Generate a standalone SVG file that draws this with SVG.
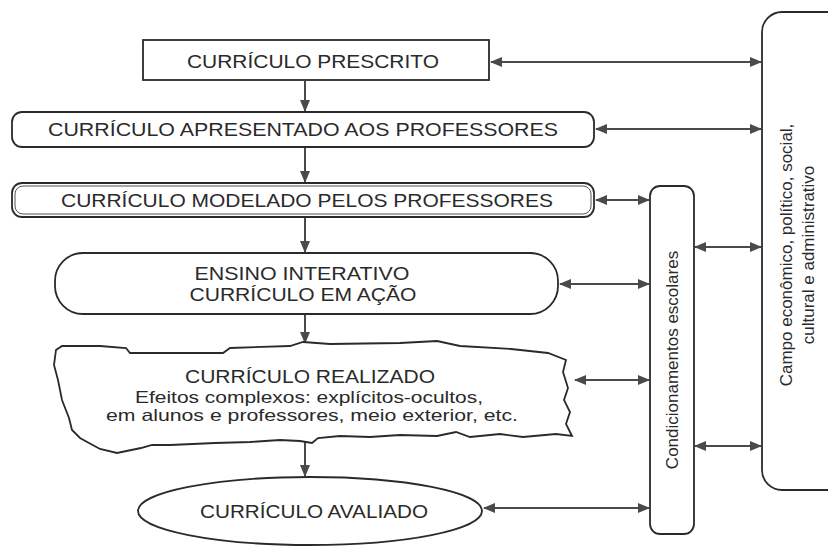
<svg xmlns="http://www.w3.org/2000/svg" width="828" height="546" viewBox="0 0 828 546">
<style>
.box{fill:#fff;stroke:#2a2a2a;stroke-width:1.8}
.t{font-family:"Liberation Sans",Arial,sans-serif;fill:#2a2a2a;text-anchor:middle}
.big{font-size:18.5px}
.sm{font-size:16.5px}
.rot{font-size:17px}
.con{stroke:#4a4a4a;stroke-width:2;fill:none}
</style>
<defs>
<marker id="ah" viewBox="0 0 12 10" refX="11" refY="5" markerWidth="12" markerHeight="10" markerUnits="userSpaceOnUse" orient="auto-start-reverse">
<path d="M0,0 L12,5 L0,10 Z" fill="#4a4a4a"/>
</marker>
</defs>
<rect width="828" height="546" fill="#fff"/>
<g id="connectors">
<line class="con" x1="305" y1="81" x2="305" y2="111" marker-end="url(#ah)"/>
<line class="con" x1="305" y1="147" x2="305" y2="182" marker-end="url(#ah)"/>
<line class="con" x1="305" y1="218" x2="305" y2="252" marker-end="url(#ah)"/>
<line class="con" x1="305" y1="314" x2="305" y2="343" marker-end="url(#ah)"/>
<line class="con" x1="305" y1="441" x2="305" y2="476" marker-end="url(#ah)"/>
<line class="con" x1="491" y1="62" x2="761" y2="62" marker-start="url(#ah)" marker-end="url(#ah)"/>
<line class="con" x1="596" y1="129" x2="761" y2="129" marker-start="url(#ah)" marker-end="url(#ah)"/>
<line class="con" x1="596" y1="200" x2="649" y2="200" marker-start="url(#ah)" marker-end="url(#ah)"/>
<line class="con" x1="560" y1="284" x2="649" y2="284" marker-start="url(#ah)" marker-end="url(#ah)"/>
<line class="con" x1="575" y1="380" x2="649" y2="380" marker-start="url(#ah)" marker-end="url(#ah)"/>
<line class="con" x1="484" y1="508" x2="649" y2="508" marker-start="url(#ah)" marker-end="url(#ah)"/>
<line class="con" x1="695" y1="247" x2="761" y2="247" marker-start="url(#ah)" marker-end="url(#ah)"/>
<line class="con" x1="695" y1="446" x2="761" y2="446" marker-start="url(#ah)" marker-end="url(#ah)"/>
</g>
<g id="prescrito">
<rect class="box" x="143" y="40" width="346" height="40"/>
<text class="t big" x="313" y="68" textLength="252" lengthAdjust="spacingAndGlyphs">CURRÍCULO PRESCRITO</text>
</g>
<g id="apresentado">
<rect class="box" x="12" y="112" width="582" height="35" rx="10"/>
<text class="t big" x="303" y="136" textLength="510" lengthAdjust="spacingAndGlyphs">CURRÍCULO APRESENTADO AOS PROFESSORES</text>
</g>
<g id="modelado">
<rect class="box" x="12" y="183" width="582" height="34" rx="10" stroke-width="2.2"/>
<rect x="15" y="186" width="576" height="28" rx="8" fill="none" stroke="#555" stroke-width="1"/>
<text class="t big" x="307" y="207" textLength="492" lengthAdjust="spacingAndGlyphs">CURRÍCULO MODELADO PELOS PROFESSORES</text>
</g>
<g id="ensino">
<rect class="box" x="55" y="253" width="503" height="61" rx="28"/>
<text class="t big" x="302" y="280" textLength="215" lengthAdjust="spacingAndGlyphs">ENSINO INTERATIVO</text>
<text class="t big" x="303" y="301" textLength="227" lengthAdjust="spacingAndGlyphs">CURRÍCULO EM AÇÃO</text>
</g>
<g id="realizado">
<path class="box" d="M56,350 L62,346 L100,346 L126,348 L130,353 L223,353 L230,348 L290,346 L303,342 L330,344 L400,343 L437,341 L460,346 L511,349 L548,353 L566,360 L563,372 L568,388 L564,400 L570,412 L566,424 L572,436 L556,434 L523,437 L500,434 L470,437 L456,432 L437,436 L400,435 L370,437 L340,436 L318,438 L312,443 L300,441 L280,440 L250,442 L215,443 L170,445 L152,445 L141,448 L117,453 L100,449 L89,443 L80,438 L72,430 L69,418 L62,400 L58,380 L54,365 Z"/>
<text class="t big" x="310" y="383" textLength="250" lengthAdjust="spacingAndGlyphs">CURRÍCULO REALIZADO</text>
<text class="t sm" x="309" y="403" textLength="348" lengthAdjust="spacingAndGlyphs">Efeitos complexos: explícitos-ocultos,</text>
<text class="t sm" x="312" y="421" textLength="412" lengthAdjust="spacingAndGlyphs">em alunos e professores, meio exterior, etc.</text>
</g>
<g id="avaliado">
<ellipse class="box" cx="310" cy="511" rx="172" ry="34"/>
<text class="t big" x="314" y="518" textLength="228" lengthAdjust="spacingAndGlyphs">CURRÍCULO AVALIADO</text>
</g>
<g id="condicionamentos">
<rect class="box" x="650" y="186" width="44" height="348" rx="10"/>
<text class="t rot" transform="translate(678,360) rotate(-90)">Condicionamentos escolares</text>
</g>
<g id="campo">
<rect class="box" x="762" y="12" width="90" height="478" rx="20"/>
<text class="t rot" transform="translate(792,255) rotate(-90)">Campo econômico, político, social,</text>
<text class="t rot" transform="translate(814,255) rotate(-90)">cultural e administrativo</text>
</g>
</svg>
